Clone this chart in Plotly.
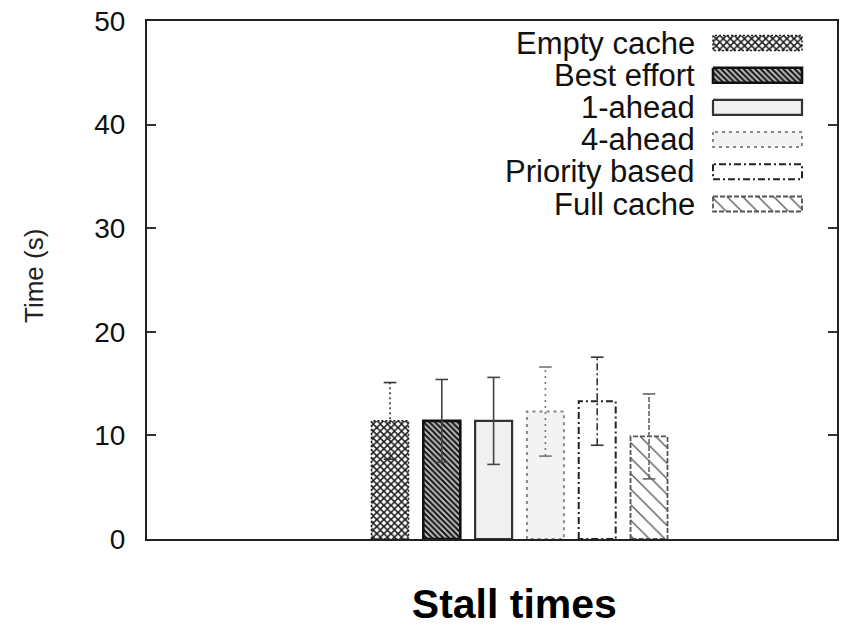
import plotly.graph_objects as go

# Stall time per caching strategy (seconds), with error half-widths
strategies = ["Empty cache", "Best effort", "1-ahead", "4-ahead", "Priority based", "Full cache"]
mean_time = [11.4, 11.4, 11.4, 12.3, 13.3, 9.9]
err_time = [3.7, 4.0, 4.2, 4.3, 4.25, 4.1]
category_label = ["Stall times"]
y_ticks = [0, 10, 20, 30, 40, 50]

# Per-series styling: fill pattern, outline dash/colour/width
styles = [
    dict(bg="#ffffff", fg="#1a1a1a", shape="x", size=5, solidity=0.5,
         line="#222222", dash="2px,2px", lw=1.6, err_dash="2px,3px", err_col="#333333"),
    dict(bg="#bdbdbd", fg="#111111", shape="\\", size=4, solidity=0.5,
         line="#111111", dash="solid", lw=2.6, err_dash="solid", err_col="#444444"),
    dict(bg="#f0f0f0", fg="#f0f0f0", shape="", size=8, solidity=0.1,
         line="#333333", dash="solid", lw=2.2, err_dash="solid", err_col="#444444"),
    dict(bg="#f3f3f3", fg="#f3f3f3", shape="", size=8, solidity=0.1,
         line="#888888", dash="3px,4px", lw=2.0, err_dash="2px,4px", err_col="#777777"),
    dict(bg="#ffffff", fg="#ffffff", shape="", size=8, solidity=0.1,
         line="#222222", dash="7px,3px,2px,3px", lw=2.0, err_dash="7px,3px,2px,3px", err_col="#333333"),
    dict(bg="#ffffff", fg="#555555", shape="\\", size=11, solidity=0.12,
         line="#555555", dash="5px,2px", lw=1.8, err_dash="5px,2px", err_col="#666666"),
]

FONT = "Liberation Sans, Arial, Helvetica, sans-serif"
BAR_W = 0.714

fig = go.Figure()


def pattern_of(s):
    if s["shape"]:
        return dict(shape=s["shape"], fgcolor=s["fg"], bgcolor=s["bg"],
                    size=s["size"], solidity=s["solidity"], fillmode="replace")
    return dict(shape="")


# Bars and their outlines
for i, (name, v, s) in enumerate(zip(strategies, mean_time, styles)):
    fig.add_trace(go.Bar(
        x=[i], y=[v], width=BAR_W, name=name, showlegend=False,
        marker=dict(color=s["bg"], line=dict(width=0), pattern=pattern_of(s)),
        hoverinfo="skip",
    ))
    h = BAR_W / 2
    fig.add_trace(go.Scatter(
        x=[i - h, i - h, i + h, i + h, i - h], y=[0, v, v, 0, 0],
        mode="lines", line=dict(color=s["line"], width=s["lw"], dash=s["dash"]),
        showlegend=False, hoverinfo="skip",
    ))

# Error bars with caps
for i, (v, e, s) in enumerate(zip(mean_time, err_time, styles)):
    fig.add_trace(go.Scatter(
        x=[i, i], y=[v - e, v + e], mode="lines",
        line=dict(color=s["err_col"], width=1.6, dash=s["err_dash"]),
        showlegend=False, hoverinfo="skip",
    ))
    fig.add_trace(go.Scatter(
        x=[i, i], y=[v - e, v + e], mode="markers",
        marker=dict(symbol="line-ew", size=9,
                    line=dict(color=s["err_col"], width=1.6)),
        showlegend=False, hoverinfo="skip",
    ))

# Key drawn gnuplot-style: right-aligned text followed by a swatch
KEY_TOP, KEY_STEP = 22, 32.2
SW_X0, SW_X1, SW_H = 566, 655, 15
TEXT_RIGHT = 550
for k, (name, s) in enumerate(zip(strategies, styles)):
    yc = KEY_TOP + k * KEY_STEP
    fig.add_trace(go.Bar(
        x=[SW_X1 - SW_X0], base=[SW_X0], y=[yc], width=SW_H, orientation="h",
        xaxis="x2", yaxis="y2", showlegend=False, hoverinfo="skip",
        marker=dict(color=s["bg"], line=dict(width=0), pattern=pattern_of(s)),
    ))
    y0, y1 = yc - SW_H / 2, yc + SW_H / 2
    fig.add_trace(go.Scatter(
        x=[SW_X0, SW_X0, SW_X1, SW_X1, SW_X0], y=[y0, y1, y1, y0, y0],
        xaxis="x2", yaxis="y2", mode="lines", showlegend=False, hoverinfo="skip",
        line=dict(color=s["line"], width=s["lw"], dash=s["dash"]),
    ))
    fig.add_annotation(
        x=TEXT_RIGHT, y=yc, xref="x2", yref="y2", text=name, showarrow=False,
        xanchor="right", yanchor="middle",
        font=dict(family=FONT, size=31, color="#111111"),
    )

# Y-axis title placed in the left margin
fig.add_annotation(
    x=(34 - 147) / 690, y=(539 - 276) / 518, xref="paper", yref="paper",
    text="Time (s)", showarrow=False, textangle=-90,
    xanchor="center", yanchor="middle",
    font=dict(family=FONT, size=26, color="#222222"),
)

fig.update_layout(
    width=841, height=626,
    margin=dict(l=147, r=4, t=21, b=87),
    paper_bgcolor="white", plot_bgcolor="white",
    barmode="overlay",
    showlegend=False,
    xaxis=dict(
        range=[-4.691, 8.629], tickvals=[2.4], ticktext=category_label,
        ticks="", showgrid=False, zeroline=False, automargin=False,
        showline=True, linecolor="#222222", linewidth=2.2, mirror=True,
        tickfont=dict(family=FONT, size=41, color="black", weight="bold"),
        ticklabelstandoff=28,
    ),
    yaxis=dict(
        range=[0, 50], tickvals=y_ticks, ticks="inside", ticklen=9,
        tickwidth=1.5, tickcolor="#333333", automargin=False,
        showgrid=False, zeroline=False,
        showline=True, linecolor="#222222", linewidth=2.2, mirror="ticks",
        tickfont=dict(family=FONT, size=28, color="#111111"),
        ticklabelstandoff=14,
    ),
    xaxis2=dict(range=[0, 690], overlaying="x", anchor="y2", visible=False),
    yaxis2=dict(range=[518, 0], overlaying="y", anchor="x2", visible=False),
)

fig.write_html("out.html")
